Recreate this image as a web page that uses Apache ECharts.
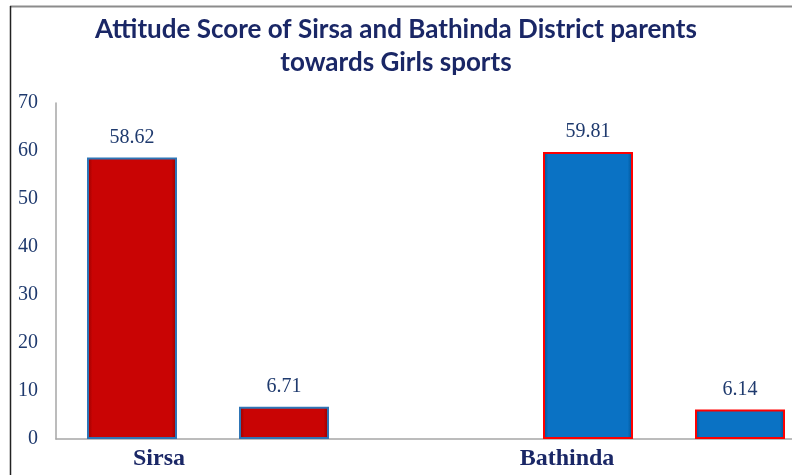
<!DOCTYPE html>
<html>
<head>
<meta charset="utf-8">
<script src="https://cdn.jsdelivr.net/npm/echarts@6/dist/echarts.min.js"></script>
<style>
  html, body { margin: 0; padding: 0; background: #fff; }
  #chart { width: 792px; height: 475px; }
</style>
</head>
<body>
<div id="chart"></div>
<script>
// districts and their scores (mean, then the small second bar)
const districts = ['Sirsa', 'Bathinda'];
const meanScores = [58.62, 59.81];
const secondScores = [6.71, 6.14];
const yTicks = [0, 10, 20, 30, 40, 50, 60, 70];

// 5 slots on the x axis: Sirsa, Sirsa, gap, Bathinda, Bathinda
const slots = [districts[0], '', '', districts[1], ''];
const sirsaData = [meanScores[0], secondScores[0], '-', '-', '-'];
const bathindaData = ['-', '-', '-', meanScores[1], secondScores[1]];

const navy = '#1F3A6E';

function sideGradient(edge, mid) {
  return new echarts.graphic.LinearGradient(0, 0, 1, 0, [
    { offset: 0, color: edge },
    { offset: 0.06, color: mid },
    { offset: 0.94, color: mid },
    { offset: 1, color: edge }
  ]);
}

let chart = echarts.init(document.getElementById('chart'));

chart.setOption({
  backgroundColor: '#fff',
  animation: false,
  title: {
    text: 'Attitude Score of Sirsa and Bathinda District parents\ntowards Girls sports',
    left: 'center',
    top: 8,
    textStyle: {
      fontFamily: 'Lato',
      fontWeight: 'bold',
      fontSize: 26,
      lineHeight: 33,
      color: '#1A2766'
    }
  },
  graphic: [
    // chart frame (cropped at right and bottom)
    { type: 'line', shape: { x1: 10, y1: 6.5, x2: 792, y2: 6.5 }, style: { stroke: '#8C8C8C', lineWidth: 2 } },
    { type: 'line', shape: { x1: 10.5, y1: 6, x2: 10.5, y2: 475 }, style: { stroke: '#222', lineWidth: 1.5 } }
  ],
  // plot area runs past the right edge of the picture
  grid: { left: 56, right: -24, top: 103, bottom: 36, outerBoundsMode: 'none' },
  xAxis: {
    type: 'category',
    data: slots,
    axisLine: { lineStyle: { color: '#A6A6A6', width: 1.5 } },
    axisTick: { show: false },
    axisLabel: {
      interval: 0,
      margin: 8,
      formatter: function (v, i) {
        if (!v) return '';
        return i === 0 ? '{s|' + v + '}' : '{b|' + v + '}';
      },
      rich: {
        s: { fontFamily: 'Liberation Serif', fontWeight: 'bold', fontSize: 24, color: '#1A2766', padding: [0, 0, 0, 54] },
        b: { fontFamily: 'Liberation Serif', fontWeight: 'bold', fontSize: 24, color: '#1A2766', padding: [0, 42, 0, 0] }
      }
    }
  },
  yAxis: {
    type: 'value',
    min: yTicks[0],
    max: yTicks[yTicks.length - 1],
    interval: 10,
    axisLine: { show: true, lineStyle: { color: '#A6A6A6', width: 1.5 } },
    axisTick: { show: false },
    splitLine: { show: false },
    axisLabel: {
      margin: 18,
      fontFamily: 'Liberation Serif',
      fontSize: 20,
      color: navy
    }
  },
  series: [
    {
      name: districts[0],
      type: 'bar',
      data: sirsaData,
      barWidth: 90,
      barGap: '-100%',
      itemStyle: {
        color: sideGradient('#8E0000', '#C90404'),
        borderColor: '#2E75B6',
        borderWidth: 2
      },
      label: {
        show: true,
        position: 'top',
        distance: 10,
        fontFamily: 'Liberation Serif',
        fontSize: 20,
        color: navy
      }
    },
    {
      name: districts[1],
      type: 'bar',
      data: bathindaData,
      barWidth: 90,
      barGap: '-100%',
      itemStyle: {
        color: sideGradient('#004F8C', '#0A72C4'),
        borderColor: '#FF0000',
        borderWidth: 2
      },
      label: {
        show: true,
        position: 'top',
        distance: 10,
        fontFamily: 'Liberation Serif',
        fontSize: 20,
        color: navy
      }
    }
  ]
});
</script>
</body>
</html>
